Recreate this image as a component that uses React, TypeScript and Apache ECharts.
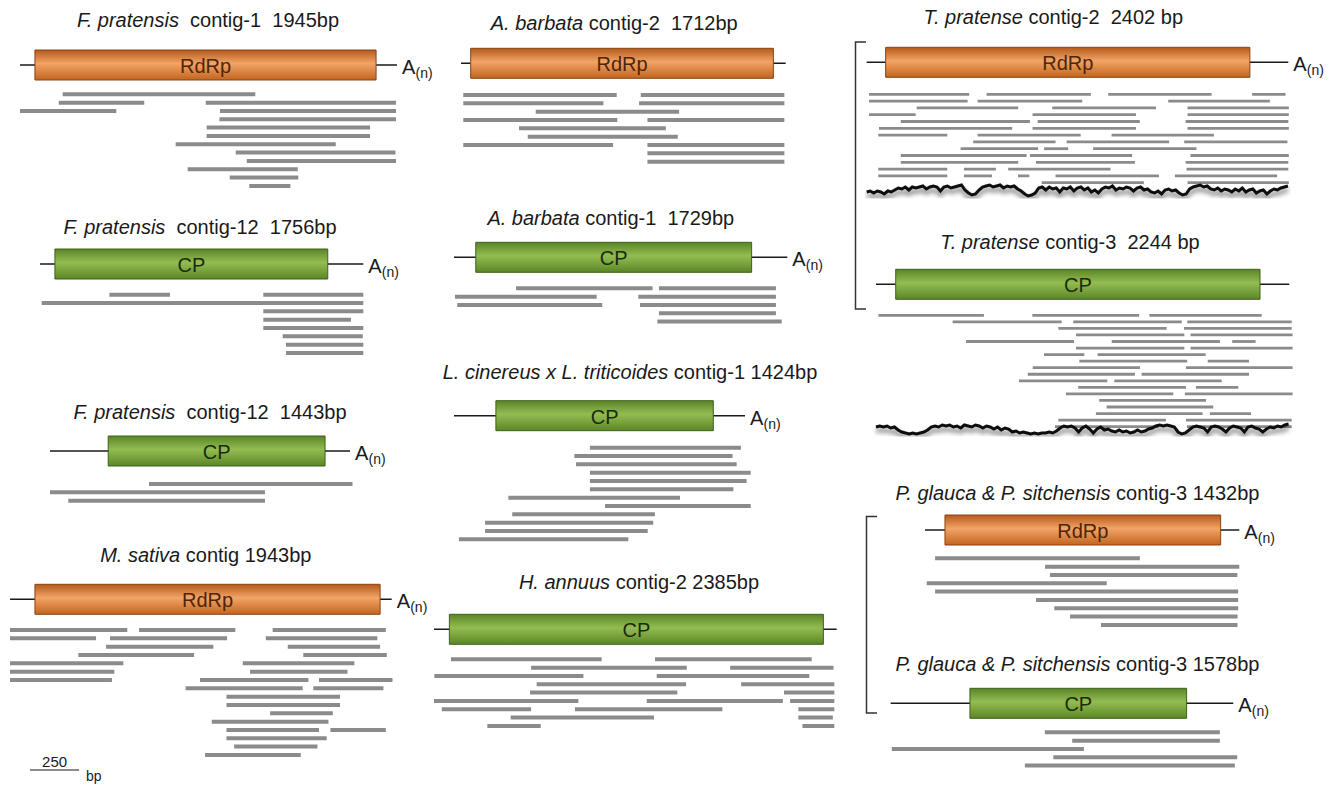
import React, { useEffect, useRef } from "react";
import * as echarts from "echarts";

const FONT = "'Liberation Sans', Arial, Helvetica, sans-serif";
const TEXT = "#1a1a1a";

// ---------- contig descriptions ----------
const contigSpecies = [
  "F. pratensis", "F. pratensis", "F. pratensis", "M. sativa",
  "A. barbata", "A. barbata", "L. cinereus x L. triticoides", "H. annuus",
  "T. pratense", "T. pratense", "P. glauca & P. sitchensis", "P. glauca & P. sitchensis",
];
const contigLabels = [
  "  contig-1  1945bp", "  contig-12  1756bp", "  contig-12  1443bp", " contig 1943bp",
  " contig-2  1712bp", " contig-1  1729bp", " contig-1 1424bp", " contig-2 2385bp",
  " contig-2  2402 bp", " contig-3  2244 bp", " contig-3 1432bp", " contig-3 1578bp",
];
const contigLengths = [1945, 1756, 1443, 1943, 1712, 1729, 1424, 2385, 2402, 2244, 1432, 1578];
const geneNames = ["RdRp", "CP", "CP", "RdRp", "RdRp", "CP", "CP", "CP", "RdRp", "CP", "RdRp", "CP"];
const geneStarts = [77, 81, 280, 127, 51, 113, 205, 91, 108, 107, 91, 365];
const geneEnds = [1837, 1563, 1323, 1884, 1647, 1544, 1269, 2306, 2183, 2085, 1347, 1363];
const hasPolyA = [true, true, true, true, false, true, true, false, true, false, true, true];

// ---------- reads: [row, start bp, end bp] ----------
const fpContig1Reads = [
  [0, 220, 1214], [1, 200, 641], [1, 958, 1940], [2, 0, 497], [2, 1032, 1940],
  [3, 1029, 1940], [4, 963, 1806], [5, 963, 1806], [6, 803, 1629], [7, 1113, 1937],
  [8, 1170, 1940], [9, 865, 1433], [10, 1082, 1436], [11, 1183, 1395],
];
const fpContig12aReads = [
  [0, 377, 706], [0, 1213, 1756], [1, 9, 1756], [2, 1213, 1756], [3, 1213, 1689],
  [4, 1213, 1756], [5, 1318, 1753], [6, 1336, 1756], [7, 1336, 1756],
];
const fpContig12bReads = [[0, 476, 1455], [1, 0, 1034], [2, 88, 1034]];
const msContigReads = [
  [0, 0, 597], [0, 657, 1147], [0, 1337, 1913],
  [1, 0, 438], [1, 509, 1105], [1, 1302, 1870],
  [2, 489, 1035], [2, 1414, 1884], [3, 348, 937], [3, 1493, 1918],
  [4, 0, 577], [4, 1185, 1753], [5, 0, 531], [5, 1222, 1718],
  [6, 0, 519], [6, 967, 1519], [6, 1573, 1947], [7, 894, 1490], [7, 1544, 1901],
  [8, 1102, 1680], [9, 1102, 1680], [10, 1324, 1643], [11, 1027, 1621],
  [12, 1102, 1573], [12, 1631, 1913], [13, 1102, 1612], [14, 1141, 1565], [15, 993, 1480],
];
const abContig2Reads = [
  [0, 12, 821], [0, 948, 1705], [1, 12, 751], [1, 939, 1705], [2, 394, 1150],
  [3, 12, 824], [3, 983, 1705], [4, 306, 1080], [5, 352, 1143],
  [6, 12, 802], [6, 983, 1705], [7, 983, 1705], [8, 983, 1705],
];
const abContig1Reads = [
  [0, 322, 1030], [0, 1063, 1670], [1, 5, 740], [1, 956, 1670],
  [2, 17, 769], [2, 965, 1670], [3, 1063, 1670], [4, 1055, 1700],
];
const lcContig1Reads = [
  [0, 665, 1404], [1, 589, 1363], [2, 597, 1383], [3, 665, 1452], [4, 665, 1432],
  [5, 665, 1367], [6, 266, 1106], [7, 739, 1452], [8, 285, 983], [9, 152, 975],
  [10, 152, 948], [11, 24, 853],
];
const haContig2Reads = [
  [0, 101, 993], [0, 1309, 2237], [1, 575, 1497], [1, 1754, 2366],
  [2, 2, 885], [2, 1319, 2223], [3, 608, 1493], [3, 1819, 2371],
  [4, 569, 1441], [4, 2073, 2371], [5, 0, 855], [5, 1260, 2066], [5, 2109, 2371],
  [6, 46, 575], [6, 835, 1708], [6, 2158, 2371], [7, 454, 1303], [7, 2158, 2362],
  [8, 316, 632], [8, 2182, 2371],
];
const tpContig2Reads = [
  [0, 13, 584], [0, 683, 1277], [0, 1376, 1965], [0, 2196, 2386],
  [1, 13, 575], [1, 632, 1228], [1, 1718, 2297],
  [2, 285, 863], [2, 1057, 1648], [2, 1828, 2405],
  [3, 13, 279], [3, 945, 1534], [3, 1828, 2405],
  [4, 194, 930], [4, 974, 1556], [4, 1817, 2402],
  [5, 70, 829], [5, 945, 1534], [5, 1828, 2405],
  [6, 66, 459], [6, 632, 1219], [6, 1395, 1978],
  [7, 607, 1076], [7, 1139, 1723], [7, 1809, 2397],
  [8, 535, 977], [8, 1011, 1148], [8, 1290, 1879],
  [9, 194, 911], [9, 930, 1512], [9, 1845, 2405],
  [10, 194, 863], [10, 964, 1528], [10, 1817, 2402],
  [11, 66, 459], [11, 554, 736], [11, 806, 1389], [11, 1822, 2402],
  [12, 66, 459], [12, 554, 714], [12, 862, 926], [12, 1076, 1665], [12, 1756, 2338],
  [13, 997, 1579], [13, 1828, 2405],
];
const tpContig3Reads = [
  [0, 13, 586], [0, 849, 1429], [0, 1484, 2094],
  [1, 416, 1008], [1, 1071, 1660], [1, 1690, 2257],
  [2, 990, 1578], [2, 1672, 2257], [3, 1086, 1674], [3, 1708, 2262],
  [4, 489, 1075], [4, 1280, 1867], [4, 1934, 2061],
  [5, 1086, 1674], [5, 1708, 2262], [6, 912, 1131], [6, 1203, 1790],
  [7, 1104, 1690], [7, 1801, 2025], [8, 851, 1433], [8, 1683, 2262],
  [9, 824, 1406], [9, 1442, 2025], [10, 776, 1256], [10, 1294, 1877],
  [11, 1098, 1683], [11, 1737, 1967], [12, 1031, 1614], [12, 1677, 2262],
  [13, 1212, 1792], [14, 1252, 1831], [15, 1194, 1773], [15, 1813, 2036],
  [16, 990, 1574], [16, 1683, 2257], [17, 972, 1533], [17, 1688, 2257],
];
const pgRdrpReads = [
  [0, 46, 979], [1, 547, 1432], [2, 569, 1423], [3, 8, 828], [4, 46, 1427],
  [5, 506, 1427], [6, 589, 1427], [7, 661, 1424], [8, 802, 1424],
];
const pgCpReads = [[0, 710, 1516], [1, 836, 1516], [2, 5, 890], [3, 749, 1596], [4, 618, 1585]];

const readSets = [
  fpContig1Reads, fpContig12aReads, fpContig12bReads, msContigReads,
  abContig2Reads, abContig1Reads, lcContig1Reads, haContig2Reads,
  tpContig2Reads, tpContig3Reads, pgRdrpReads, pgCpReads,
];

// ---------- coverage profiles (T. pratense), one value every 20 bp ----------
const coverageStepBp = 20;
const tpContig2Coverage = [
  5, 6, 4, 6, 5, 3, 6, 5, 7, 9, 8, 10, 7, 10, 9,
  10, 11, 8, 10, 11, 10, 6, 10, 11, 9, 10, 11, 12, 7, 4,
  2, 3, 7, 10, 11, 12, 10, 11, 12, 9, 11, 10, 11, 8, 6,
  3, 1, 2, 4, 9, 10, 7, 10, 8, 9, 5, 9, 8, 10, 6,
  9, 10, 7, 9, 5, 7, 4, 8, 10, 9, 11, 7, 9, 8, 10,
  9, 6, 9, 10, 7, 8, 5, 4, 6, 3, 7, 8, 6, 7, 4,
  2, 3, 8, 10, 11, 12, 10, 11, 8, 7, 9, 6, 8, 7, 5,
  8, 6, 9, 5, 7, 8, 4, 6, 7, 3, 6, 8, 7, 9, 10, 11,
];
const tpContig3Coverage = [
  8, 9, 8, 9, 7, 8, 5, 3, 2, 1, 2, 1, 2, 3, 5,
  8, 9, 8, 10, 9, 10, 8, 9, 7, 10, 9, 8, 10, 9, 7,
  9, 8, 6, 8, 5, 7, 6, 3, 4, 2, 3, 2, 1, 2, 1,
  2, 2, 3, 2, 4, 7, 9, 8, 9, 7, 3, 7, 9, 6, 2,
  6, 8, 5, 6, 4, 3, 5, 3, 4, 2, 3, 5, 3, 4, 6,
  7, 9, 10, 9, 10, 9, 8, 3, 1, 2, 5, 8, 9, 8, 7,
  3, 8, 9, 8, 6, 3, 7, 9, 8, 7, 3, 8, 9, 7, 6,
  3, 6, 8, 7, 9, 8, 10, 11,
];
const coverageSets = [tpContig2Coverage, tpContig3Coverage];
const coveragePanels = [8, 9];
const scaleBarBp = 250;

// ---------- layout (pixels) ----------
const panelLayout = [
  { x0: 20, x1: 397, y: 65, first: 94.3, step: 8.33, bar: 4, tx: 208, ty: 19.5 },
  { x0: 40, x1: 363.3, y: 264, first: 294.7, step: 8.33, bar: 4, tx: 200, ty: 226.7 },
  { x0: 50, x1: 350, y: 451, first: 484, step: 8.33, bar: 4, tx: 210, ty: 411.7 },
  { x0: 10, x1: 391.7, y: 599.3, first: 630, step: 8.33, bar: 4, tx: 205.8, ty: 555 },
  { x0: 461, x1: 785.7, y: 63.3, first: 95, step: 8.33, bar: 4, tx: 614.2, ty: 23.3 },
  { x0: 454, x1: 787.3, y: 257.3, first: 288.3, step: 8.33, bar: 4, tx: 610.8, ty: 218.3 },
  { x0: 454, x1: 745, y: 415.7, first: 447.7, step: 8.33, bar: 4, tx: 630, ty: 371.7 },
  { x0: 434, x1: 836.7, y: 629.3, first: 659.3, step: 8.33, bar: 4, tx: 639, ty: 581.7 },
  { x0: 866.7, x1: 1288.3, y: 62.3, first: 94.3, step: 6.8, bar: 2.8, tx: 1053.3, ty: 16.7 },
  { x0: 876, x1: 1289.3, y: 284.3, first: 315.3, step: 6.55, bar: 2.8, tx: 1070, ty: 241.7 },
  { x0: 925, x1: 1239.3, y: 530, first: 558.3, step: 8.33, bar: 4, tx: 1077.5, ty: 493.3 },
  { x0: 890.7, x1: 1233.3, y: 703.3, first: 732.3, step: 8.33, bar: 4, tx: 1077.5, ty: 664.3 },
];
const coverageBase = [197, 435];
const COV_MAX = 14;

const GENE_STYLE: Record<string, { stops: string[]; border: string; text: string }> = {
  RdRp: { stops: ["#b45a1b", "#f3a467", "#c2651f"], border: "#8a4414", text: "#4e260a" },
  CP: { stops: ["#5a8526", "#93bd52", "#5b8626"], border: "#3f611a", text: "#1d2a0c" },
};

function makeContigRenderer(name: string, polyA: boolean) {
  const gs = GENE_STYLE[name];
  return (params: any, api: any) => {
    const a = api.coord([api.value(0), api.value(4)]);
    const b = api.coord([api.value(1), api.value(4)]);
    const g0 = api.coord([api.value(2), api.value(4)]);
    const g1 = api.coord([api.value(3), api.value(4)]);
    const y = a[1];
    const children: any[] = [
      { type: "line", shape: { x1: a[0], y1: y, x2: b[0], y2: y }, style: { stroke: "#1a1a1a", lineWidth: 1.5 } },
      {
        type: "rect",
        shape: { x: g0[0], y: y - 15, width: g1[0] - g0[0], height: 30 },
        style: {
          fill: new echarts.graphic.LinearGradient(0, 0, 0, 1, [
            { offset: 0, color: gs.stops[0] },
            { offset: 0.45, color: gs.stops[1] },
            { offset: 1, color: gs.stops[2] },
          ]),
          stroke: gs.border,
          lineWidth: 1,
        },
      },
      {
        type: "text",
        x: (g0[0] + g1[0]) / 2,
        y: y + 1,
        style: { text: name, fontSize: 20, fontFamily: FONT, fill: gs.text, align: "center", verticalAlign: "middle" },
      },
    ];
    if (polyA) {
      children.push({
        type: "text", x: b[0] + 5, y: y + 2,
        style: { text: "A", fontSize: 20, fontFamily: FONT, fill: TEXT, align: "left", verticalAlign: "middle" },
      });
      children.push({
        type: "text", x: b[0] + 18.5, y: y + 8,
        style: { text: "(n)", fontSize: 14, fontFamily: FONT, fill: TEXT, align: "left", verticalAlign: "middle" },
      });
    }
    return { type: "group", children };
  };
}

function makeReadRenderer(h: number) {
  return (params: any, api: any) => {
    const s = api.coord([api.value(0), api.value(2)]);
    const e = api.coord([api.value(1), api.value(2)]);
    return {
      type: "rect",
      shape: { x: s[0], y: s[1] - h / 2, width: e[0] - s[0], height: h },
      style: { fill: "#8b8b8b" },
    };
  };
}

function buildOption() {
  const grid: any[] = [];
  const xAxis: any[] = [];
  const yAxis: any[] = [];
  const series: any[] = [];
  const graphic: any[] = [];

  panelLayout.forEach((L, i) => {
    const offset = (L.first - L.y) / L.step;
    const maxRow = Math.max(...readSets[i].map((r) => r[0]));
    const rows = maxRow + offset + 1.2;
    grid.push({
      left: L.x0, top: L.y, width: L.x1 - L.x0, height: L.step * rows,
      containLabel: false, outerBoundsMode: "none",
    });
    xAxis.push({ type: "value", gridIndex: i, min: 0, max: contigLengths[i], show: false });
    yAxis.push({ type: "value", gridIndex: i, min: 0, max: rows, inverse: true, show: false });
    series.push({
      type: "custom", xAxisIndex: i, yAxisIndex: i, silent: true, clip: false, z: 3,
      data: [[0, contigLengths[i], geneStarts[i], geneEnds[i], 0]],
      encode: { x: [0, 1, 2, 3], y: 4 },
      renderItem: makeContigRenderer(geneNames[i], hasPolyA[i]),
    });
    series.push({
      type: "custom", xAxisIndex: i, yAxisIndex: i, silent: true, clip: false, z: 2,
      data: readSets[i].map((r) => [r[1], r[2], r[0] + offset]),
      encode: { x: [0, 1], y: 2 },
      renderItem: makeReadRenderer(L.bar),
    });
    graphic.push({
      type: "text", x: L.tx, y: L.ty, silent: true,
      style: {
        text: `{i|${contigSpecies[i]}}{r|${contigLabels[i]}}`,
        rich: {
          i: { fontStyle: "italic", fontSize: 20, fontFamily: FONT, fill: TEXT },
          r: { fontSize: 20, fontFamily: FONT, fill: TEXT },
        },
        fontSize: 20, fontFamily: FONT, fill: TEXT,
        align: "center", verticalAlign: "middle",
      },
    });
  });

  coverageSets.forEach((cov, k) => {
    const p = coveragePanels[k];
    const L = panelLayout[p];
    const gi = panelLayout.length + k;
    grid.push({
      left: L.x0, top: coverageBase[k] - COV_MAX, width: L.x1 - L.x0, height: COV_MAX,
      containLabel: false, outerBoundsMode: "none",
    });
    xAxis.push({ type: "value", gridIndex: gi, min: 0, max: contigLengths[p], show: false });
    yAxis.push({ type: "value", gridIndex: gi, min: 0, max: COV_MAX, show: false });
    series.push({
      type: "line", xAxisIndex: gi, yAxisIndex: gi, silent: true, z: 4,
      symbol: "none", showSymbol: false,
      data: cov.map((v, j) => [j * coverageStepBp, v]),
      lineStyle: {
        color: "#0d0d0d", width: 3, join: "miter",
        shadowColor: "rgba(0,0,0,0.6)", shadowBlur: 5, shadowOffsetY: 4,
      },
    });
  });

  // brackets
  graphic.push({
    type: "polyline", silent: true,
    shape: { points: [[866, 42], [855.5, 42], [855.5, 309], [866, 309]] },
    style: { stroke: "#333", lineWidth: 1.5, fill: null },
  });
  graphic.push({
    type: "polyline", silent: true,
    shape: { points: [[877, 516.5], [866.5, 516.5], [866.5, 713], [877, 713]] },
    style: { stroke: "#333", lineWidth: 1.5, fill: null },
  });

  // scale bar (250 bp at the M. sativa panel scale)
  const ms = panelLayout[3];
  const barLen = (scaleBarBp * (ms.x1 - ms.x0)) / contigLengths[3];
  graphic.push({
    type: "line", silent: true,
    shape: { x1: 30, y1: 770, x2: 30 + barLen, y2: 770 },
    style: { stroke: "#1a1a1a", lineWidth: 1.2 },
  });
  graphic.push({
    type: "text", x: 30 + barLen / 2, y: 761, silent: true,
    style: { text: String(scaleBarBp), fontSize: 15, fontFamily: FONT, fill: TEXT, align: "center", verticalAlign: "middle" },
  });
  graphic.push({
    type: "text", x: 86, y: 776, silent: true,
    style: { text: "bp", fontSize: 14, fontFamily: FONT, fill: TEXT, align: "left", verticalAlign: "middle" },
  });

  return {
    animation: false,
    backgroundColor: "#ffffff",
    grid, xAxis, yAxis, series, graphic,
  };
}

export default function App() {
  const ref = useRef<HTMLDivElement>(null);
  useEffect(() => {
    if (!ref.current) return;
    const chart = echarts.init(ref.current, undefined, { renderer: "svg" });
    chart.setOption(buildOption() as any);
    return () => chart.dispose();
  }, []);
  return (
    <div
      ref={ref}
      style={{ position: "fixed", left: 0, top: 0, width: 1331, height: 786, background: "#fff" }}
    />
  );
}
